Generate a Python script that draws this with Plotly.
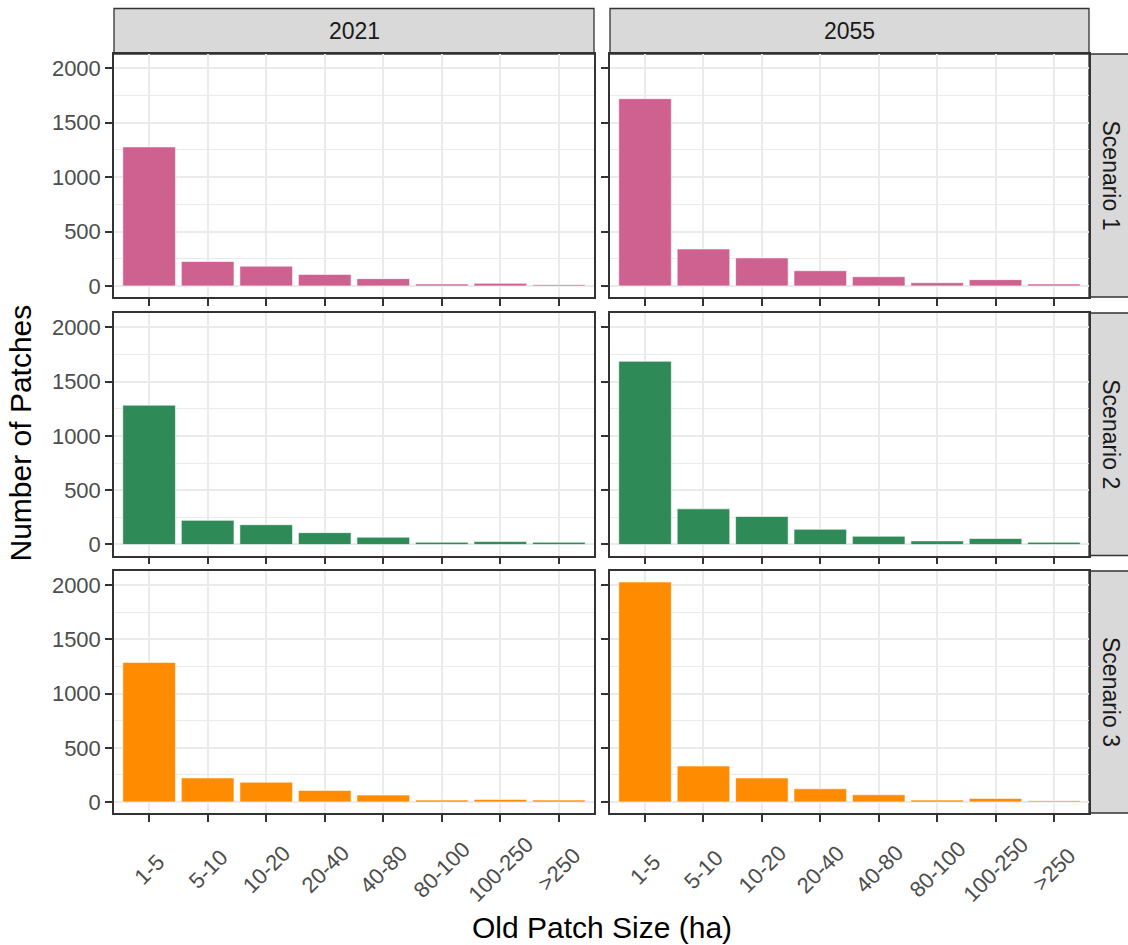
import plotly.graph_objects as go

categories = ["1-5", "5-10", "10-20", "20-40", "40-80", "80-100", "100-250", ">250"]
years = ["2021", "2055"]
scenarios = ["Scenario 1", "Scenario 2", "Scenario 3"]

s1_2021 = [1278, 225, 182, 106, 67, 18, 24, 12]
s1_2055 = [1721, 340, 258, 140, 85, 30, 58, 18]
s2_2021 = [1283, 222, 182, 109, 67, 21, 27, 21]
s2_2055 = [1687, 328, 258, 140, 76, 33, 55, 21]
s3_2021 = [1288, 222, 183, 107, 64, 18, 24, 18]
s3_2055 = [2030, 332, 222, 122, 67, 18, 33, 12]

values = [[s1_2021, s1_2055], [s2_2021, s2_2055], [s3_2021, s3_2055]]
colors = ["#CF6191", "#2E8B57", "#FF8C00"]

W, H = 1128, 945
FONT = "Liberation Sans, Arial, sans-serif"
TICK = 22
STRIP = 23
TITLE = 30
xdom = [(114, 594), (610, 1089)]
ydom = [(54, 297), (313, 555.5), (571, 813)]

def px_x(v):
    return v / W

def px_y(v):
    return 1 - v / H

fig = go.Figure()
layout = dict(
    width=W, height=H, margin=dict(l=0, r=0, t=0, b=0, autoexpand=False),
    paper_bgcolor="white", plot_bgcolor="white",
    showlegend=False, bargap=0.1,
    font=dict(family=FONT, size=TICK, color="#4D4D4D"),
)

ymax = max(max(v) for row in values for v in row)
yrange = [-0.05 * ymax, 1.05 * ymax]

annotations = []
idx = 0
for r in range(3):
    for c in range(2):
        idx += 1
        xa = "x" if idx == 1 else f"x{idx}"
        ya = "y" if idx == 1 else f"y{idx}"
        fig.add_trace(go.Bar(
            x=categories, y=values[r][c], xaxis=xa, yaxis=ya,
            marker=dict(color=colors[r], line=dict(color="white", width=0.6)),
            width=0.9,
        ))
        xkey = "xaxis" if idx == 1 else f"xaxis{idx}"
        ykey = "yaxis" if idx == 1 else f"yaxis{idx}"
        layout[xkey] = dict(
            domain=[px_x(xdom[c][0]), px_x(xdom[c][1])],
            anchor=ya, type="category", categoryorder="array", categoryarray=categories,
            range=[-0.6, 7.6], showgrid=True, gridcolor="#EBEBEB", gridwidth=2,
            showline=True, mirror=True, linecolor="#333333", linewidth=1.5,
            ticks="outside", ticklen=7, tickwidth=2, tickcolor="#333333",
            showticklabels=False,
            zeroline=False, fixedrange=True,
        )
        layout[ykey] = dict(
            domain=[px_y(ydom[r][1]), px_y(ydom[r][0])],
            anchor=xa, range=yrange, tickmode="array",
            tickvals=[0, 500, 1000, 1500, 2000],
            showgrid=True, gridcolor="#EBEBEB", gridwidth=2,
            minor=dict(tickmode="array", tickvals=[250, 750, 1250, 1750],
                       showgrid=True, gridcolor="#EBEBEB", gridwidth=1, ticks=""),
            showline=True, mirror=True, linecolor="#333333", linewidth=1.5,
            ticks="outside", ticklen=7, tickwidth=2, tickcolor="#333333",
            showticklabels=(c == 0),
            tickfont=dict(family=FONT, size=TICK, color="#4D4D4D"),
            zeroline=False, fixedrange=True,
        )
        if r == 2:
            for cat in categories:
                annotations.append(dict(
                    text=cat, xref=xa, yref="paper", x=cat, y=px_y(869),
                    showarrow=False, xanchor="center", yanchor="middle",
                    textangle=-45,
                    font=dict(family=FONT, size=TICK, color="#4D4D4D")))

shapes = []
# top strips
for c in range(2):
    shapes.append(dict(type="rect", xref="paper", yref="paper",
                       x0=px_x(xdom[c][0]), x1=px_x(xdom[c][1]),
                       y0=px_y(54), y1=px_y(8.5),
                       fillcolor="#D9D9D9", line=dict(color="#333333", width=1.3),
                       layer="below"))
    annotations.append(dict(text=years[c], xref="paper", yref="paper",
                            x=(px_x(xdom[c][0]) + px_x(xdom[c][1])) / 2,
                            y=(px_y(54) + px_y(8.5)) / 2,
                            showarrow=False, xanchor="center", yanchor="middle",
                            font=dict(family=FONT, size=STRIP, color="#1A1A1A")))
# right strips
for r in range(3):
    shapes.append(dict(type="rect", xref="paper", yref="paper",
                       x0=px_x(1089), x1=1.02,
                       y0=px_y(ydom[r][1]), y1=px_y(ydom[r][0]),
                       fillcolor="#D9D9D9", line=dict(color="#333333", width=1.3),
                       layer="below"))
    annotations.append(dict(text=scenarios[r], xref="paper", yref="paper",
                            x=px_x(1111), y=(px_y(ydom[r][0]) + px_y(ydom[r][1])) / 2,
                            showarrow=False, xanchor="center", yanchor="middle",
                            textangle=90,
                            font=dict(family=FONT, size=STRIP, color="#1A1A1A")))

annotations.append(dict(text="Number of Patches", xref="paper", yref="paper",
                        x=px_x(20), y=px_y((54 + 813) / 2), showarrow=False,
                        xanchor="center", yanchor="middle", textangle=-90,
                        font=dict(family=FONT, size=TITLE, color="black")))
annotations.append(dict(text="Old Patch Size (ha)", xref="paper", yref="paper",
                        x=px_x((114 + 1089) / 2), y=px_y(927), showarrow=False,
                        xanchor="center", yanchor="middle",
                        font=dict(family=FONT, size=TITLE, color="black")))

layout["shapes"] = shapes
layout["annotations"] = annotations
fig.update_layout(**layout)
fig.write_html("out.html", config={"displayModeBar": False},
               post_script="document.body.style.margin='0';document.body.style.overflow='hidden';")
